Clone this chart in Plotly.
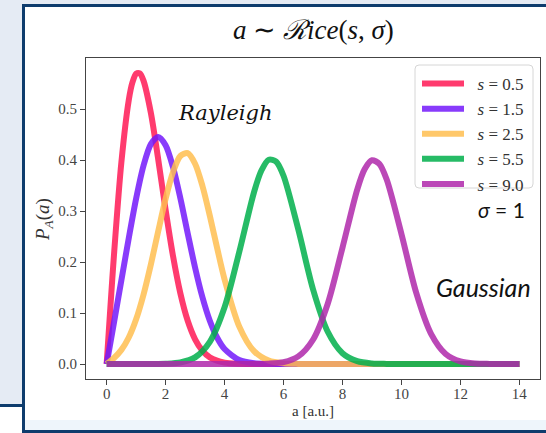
import plotly.graph_objects as go

# Rice distribution P_A(a) for sigma = 1, sampled along a [a.u.]
a_s05 = [0, 0.125, 0.25, 0.5, 0.75, 0.875, 1.0, 1.125, 1.25, 1.5, 1.75, 2.0, 2.25,
         2.5, 2.75, 3.0, 3.25, 3.5, 4.0, 4.5, 5.0, 14.0]
p_s05 = [0, 0.1096, 0.2147, 0.3955, 0.5173, 0.5521, 0.5692, 0.5698, 0.5556, 0.4924,
         0.4011, 0.3024, 0.2121, 0.1387, 0.0847, 0.0484, 0.0259, 0.0130, 0.0027,
         0.0004, 0.0001, 0]

a_s15 = [0, 0.25, 0.5, 0.75, 1.0, 1.25, 1.5, 1.75, 2.0, 2.25, 2.5, 2.75, 3.0, 3.25,
         3.5, 3.75, 4.0, 4.5, 5.0, 5.5, 6.0, 14.0]
p_s15 = [0, 0.0815, 0.1641, 0.2467, 0.3243, 0.3887, 0.4312, 0.4452, 0.4289, 0.3862,
         0.3252, 0.2563, 0.1891, 0.1308, 0.0847, 0.0514, 0.0293, 0.0078, 0.0016,
         0.0003, 0.0000, 0]

a_s25 = [0, 0.25, 0.5, 0.75, 1.0, 1.25, 1.5, 1.75, 2.0, 2.25, 2.5, 2.75, 3.0, 3.25,
         3.5, 3.75, 4.0, 4.5, 5.0, 5.5, 6.0, 6.5, 7.0, 14.0]
p_s25 = [0, 0.0117, 0.0277, 0.0520, 0.0877, 0.1359, 0.1951, 0.2604, 0.3239, 0.3760,
         0.4078, 0.4136, 0.3927, 0.3491, 0.2907, 0.2269, 0.1660, 0.0733, 0.0251,
         0.0066, 0.0014, 0.0002, 0.0000, 0]

a_s55 = [0, 1.5, 2.0, 2.5, 3.0, 3.5, 4.0, 4.5, 5.0, 5.25, 5.5, 5.75, 6.0, 6.5, 7.0,
         7.5, 8.0, 8.5, 9.0, 9.5, 14.0]
p_s55 = [0, 0.0001, 0.0005, 0.0030, 0.0130, 0.0434, 0.1111, 0.2200, 0.3372, 0.3794,
         0.4006, 0.3969, 0.3691, 0.2640, 0.1466, 0.0632, 0.0212, 0.0055, 0.0011,
         0.0002, 0]

a_s90 = [0, 5.0, 5.5, 6.0, 6.5, 7.0, 7.5, 8.0, 8.5, 8.75, 9.0, 9.25, 9.5, 10.0, 10.5,
         11.0, 11.5, 12.0, 12.5, 13.0, 14.0]
p_s90 = [0, 0.0001, 0.0007, 0.0036, 0.0149, 0.0476, 0.1182, 0.2281, 0.3421, 0.3819,
         0.3995, 0.3926, 0.3617, 0.2551, 0.1399, 0.0597, 0.0198, 0.0051, 0.0010,
         0.0002, 0]

series_labels = ["0.5", "1.5", "2.5", "5.5", "9.0"]
series_a = [a_s05, a_s15, a_s25, a_s55, a_s90]
series_p = [p_s05, p_s15, p_s25, p_s55, p_s90]
series_colors = ["rgba(255,25,85,0.85)", "rgba(115,25,250,0.85)",
                 "rgba(255,190,80,0.85)", "rgba(0,175,75,0.85)",
                 "rgba(175,40,170,0.85)"]

x_ticks = [0, 2, 4, 6, 8, 10, 12, 14]
y_ticks = [0.0, 0.1, 0.2, 0.3, 0.4, 0.5]
y_tick_text = ["0.0", "0.1", "0.2", "0.3", "0.4", "0.5"]

W, H = 546, 433
ML, MR, MT, MB = 86, 6, 58, 54
PW, PH = W - ML - MR, H - MT - MB


def px(xp):
    return (xp - ML) / PW


def py(yp):
    return (H - MB - yp) / PH


SERIF = "Liberation Serif"
NAVY = "#0e3c6d"

fig = go.Figure()
for lab, a, p, c in zip(series_labels, series_a, series_p, series_colors):
    fig.add_trace(go.Scatter(
        x=a, y=p, mode="lines", name=f"&nbsp;&nbsp;<i>s</i> = {lab}",
        line=dict(color=c, width=6, shape="spline", smoothing=0.8),
    ))

shapes = [
    # page frame
    dict(type="rect", xref="paper", yref="paper", x0=px(0), x1=px(22.5),
         y0=py(406), y1=py(440), fillcolor="white", line_width=0, layer="below"),
    dict(type="line", xref="paper", yref="paper", x0=px(0), x1=px(24),
         y0=py(405.5), y1=py(405.5), line=dict(color=NAVY, width=3), layer="below"),
    dict(type="rect", xref="paper", yref="paper", x0=px(23.5), x1=px(580),
         y0=py(5.5), y1=py(431.5), fillcolor="white",
         line=dict(color=NAVY, width=3), layer="below"),
    dict(type="rect", xref="paper", yref="paper", x0=px(25), x1=px(560),
         y0=py(420), y1=py(430), fillcolor="#eef5fb", line_width=0, layer="below"),
    # rounded legend frame
    dict(type="path", xref="paper", yref="paper",
         path=(f"M {px(419)},{py(65)} L {px(529)},{py(65)} "
               f"Q {px(533)},{py(65)} {px(533)},{py(69)} L {px(533)},{py(184)} "
               f"Q {px(533)},{py(188)} {px(529)},{py(188)} L {px(419)},{py(188)} "
               f"Q {px(415)},{py(188)} {px(415)},{py(184)} L {px(415)},{py(69)} "
               f"Q {px(415)},{py(65)} {px(419)},{py(65)} Z"),
         fillcolor="rgba(255,255,255,0.8)", line=dict(color="#d6d6d6", width=1),
         layer="above"),
]

annotations = [
    dict(text="<i>a</i> ∼ <i>ℛice</i>(<i>s</i>, <i>σ</i>)", xref="paper", yref="paper",
         x=0.5, y=py(30), xanchor="center", yanchor="middle", showarrow=False,
         font=dict(family=SERIF, size=27, color="#111")),
    dict(text="<i>P</i><sub><i>A</i></sub>(<i>a</i>)", xref="paper", yref="paper",
         x=px(44), y=py(220), xanchor="center", yanchor="middle", textangle=-90,
         showarrow=False, font=dict(family=SERIF, size=19, color="#333")),
    dict(text="a [a.u.]", xref="paper", yref="paper", x=0.5, y=py(411),
         xanchor="center", yanchor="middle", showarrow=False,
         font=dict(family=SERIF, size=15, color="#333")),
    dict(text="<i>Rayleigh</i>", x=4.03, y=0.492, xref="x", yref="y",
         xanchor="center", yanchor="middle", showarrow=False,
         font=dict(family="DejaVu Serif", size=21, color="#111")),
    dict(text="<i>σ</i> = 1", x=13.39, y=0.302, xref="x", yref="y",
         xanchor="center", yanchor="middle", showarrow=False,
         font=dict(family="Lato", size=21, color="#111")),
    dict(text="<i>Gaussian</i>", x=12.78, y=0.151, xref="x", yref="y",
         xanchor="center", yanchor="middle", showarrow=False,
         font=dict(family="Lato", size=25, color="#111")),
]

axis_common = dict(
    showgrid=False, zeroline=False, showline=True, mirror=True,
    linecolor="#444", linewidth=1.2, ticks="outside", ticklen=5,
    tickcolor="#444", tickwidth=1.2,
    tickfont=dict(family=SERIF, size=15, color="#444"),
)

fig.update_layout(
    width=W, height=H,
    margin=dict(l=ML, r=MR, t=MT, b=MB, pad=0),
    paper_bgcolor="#e5ebf4", plot_bgcolor="white",
    xaxis=dict(range=[-0.7, 14.7], tickvals=x_ticks, ticklabelstandoff=-4,
               **axis_common),
    yaxis=dict(range=[-0.0294, 0.6], tickvals=y_ticks, ticktext=y_tick_text,
               **axis_common),
    showlegend=True,
    legend=dict(x=px(417), y=py(66), xanchor="left", yanchor="top",
                bgcolor="rgba(0,0,0,0)", borderwidth=0, itemwidth=42,
                font=dict(family=SERIF, size=17, color="#333"),
                tracegroupgap=0),
    shapes=shapes,
    annotations=annotations,
)

fig.write_html("out.html")
